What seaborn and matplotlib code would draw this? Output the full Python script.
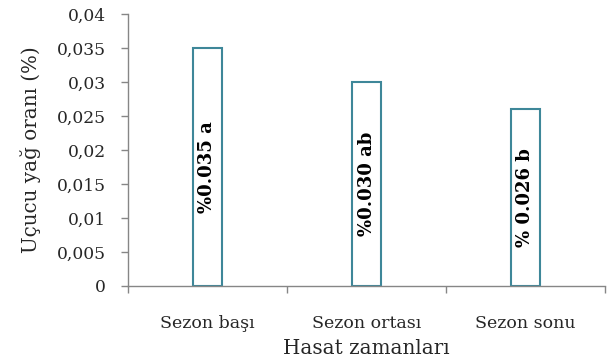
import matplotlib
matplotlib.use("Agg")
import matplotlib.pyplot as plt
import seaborn as sns
import pandas as pd
from matplotlib.ticker import FuncFormatter, MultipleLocator, FixedLocator

categories = ["Sezon başı", "Sezon ortası", "Sezon sonu"]
values = [0.035, 0.030, 0.026]
bar_labels = ["%0.035 a", "%0.030 ab", "% 0.026 b"]

sns.set_theme(style="white")
plt.rcParams['font.family'] = ['DejaVu Serif']

df = pd.DataFrame({"cat": categories, "val": values})

fig = plt.figure(figsize=(6.09, 3.6), dpi=100)
ax = fig.add_axes([128/609, 1-286/360, (605-128)/609, (286-14)/360])

edge = "#3E8799"
sns.barplot(data=df, x="cat", y="val", ax=ax, width=0.18, color="white",
            edgecolor=edge, linewidth=1.5, saturation=1)

for i, (v, lab) in enumerate(zip(values, bar_labels)):
    ax.text(i, v/2, lab, rotation=90, ha="center", va="center",
            fontsize=13, fontweight="bold", color="black")

ax.set_ylim(0, 0.04)
ax.set_xlim(-0.5, 2.5)
ax.yaxis.set_major_locator(MultipleLocator(0.005))
ax.yaxis.set_major_formatter(FuncFormatter(lambda v, p: f"{round(v,3):g}".replace(".", ",")))
ax.xaxis.set_minor_locator(FixedLocator([-0.5, 0.5, 1.5, 2.5]))
ax.tick_params(axis="x", which="major", length=0, pad=21, labelsize=12.5)
ax.tick_params(axis="x", which="minor", length=5, color="#868686", width=1, direction="out", bottom=True)
ax.tick_params(axis="y", length=5, color="#868686", width=1, direction="out", left=True, labelsize=12.3, pad=11)

for s in ["top", "right"]:
    ax.spines[s].set_visible(False)
for s in ["left", "bottom"]:
    ax.spines[s].set_color("#868686")
    ax.spines[s].set_linewidth(1)

ax.set_xlabel("Hasat zamanları", fontsize=14.3, labelpad=5)
ax.set_ylabel("Uçucu yağ oranı (%)", fontsize=14.3, labelpad=11)

fig.savefig("out.png", dpi=100)
